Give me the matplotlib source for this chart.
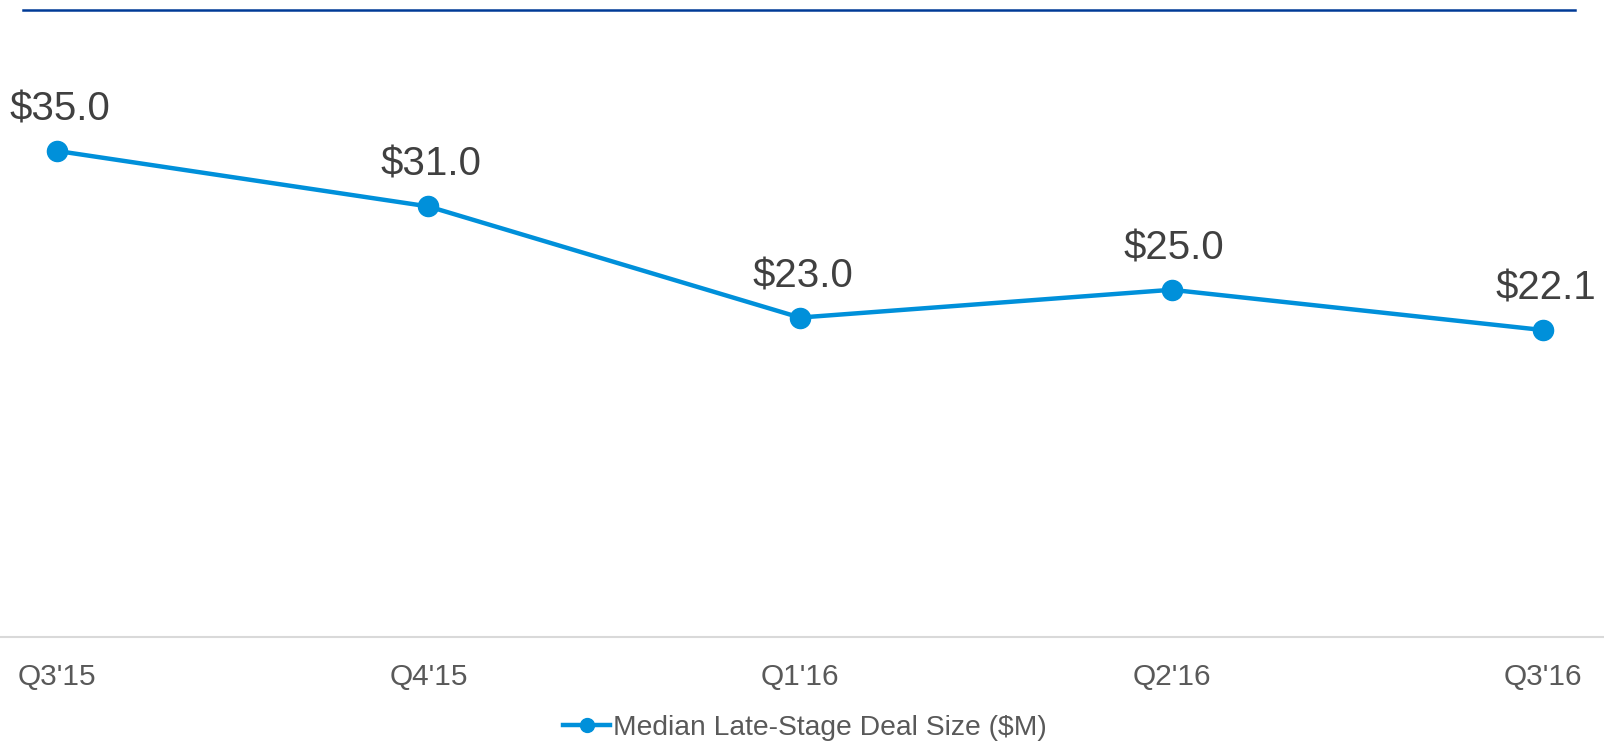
import matplotlib.pyplot as plt
from matplotlib.lines import Line2D

plt.rcParams['font.family'] = ['Liberation Sans', 'DejaVu Sans']

quarters = ["Q3'15", "Q4'15", "Q1'16", "Q2'16", "Q3'16"]
deal_size = [35.0, 31.0, 23.0, 25.0, 22.1]
series_name = 'Median Late-Stage Deal Size ($M)'

blue = '#0090DA'

fig = plt.figure(figsize=(16.04, 7.43), dpi=100)
ax = fig.add_axes([0.0, 1 - 637 / 743, 1.0, (637 - 12) / 743])

x = list(range(len(quarters)))
ax.plot(x, deal_size, '-o', color=blue, lw=3.2, ms=14.5, label=series_name)

for xi, v in zip(x, deal_size):
    ax.annotate('$%.1f' % v, (xi, v), xytext=(2, 22), textcoords='offset points',
                ha='center', va='baseline', fontsize=29, color='#404040')

ax.set_xlim(-0.153, 4.164)
ax.set_ylim(0, 45.0)
ax.set_xticks(x)
ax.set_xticklabels(quarters, fontsize=21.5, color='#595959')
ax.tick_params(axis='x', length=0, pad=19)
ax.set_yticks([])
for s in ['top', 'left', 'right']:
    ax.spines[s].set_visible(False)
ax.spines['bottom'].set_color('#D9D9D9')
ax.spines['bottom'].set_linewidth(1.5)

# dark blue rule across the top
fig.add_artist(Line2D([23 / 1604, 1575 / 1604], [1 - 10 / 743, 1 - 10 / 743],
                      color='#003A96', lw=1.8))

handle = Line2D([], [], color=blue, lw=3.2, marker='o', ms=10)
fig.legend([handle], [series_name], loc='center', bbox_to_anchor=(0.502, 1 - 728 / 743),
           frameon=False, fontsize=20.3, labelcolor='#595959', handlelength=1.65,
           handletextpad=0.12)

fig.savefig('out.png', dpi=100)
